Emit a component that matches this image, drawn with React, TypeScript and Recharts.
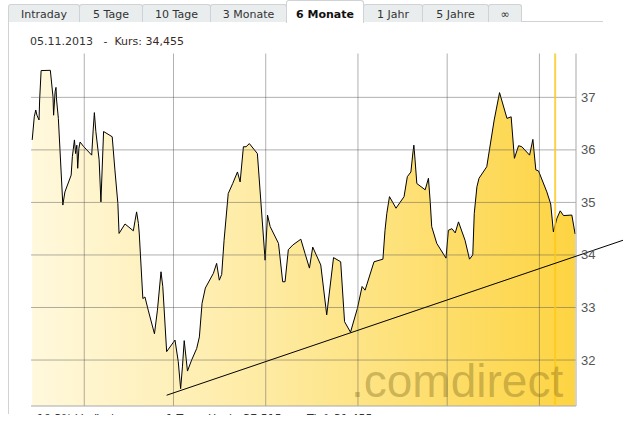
import { ComposedChart, Area, XAxis, YAxis, ReferenceLine } from 'recharts'

// day number counted from 1 May 2013, price in EUR
const DAYS = [
  13.5, 14.2, 14.7, 15.1, 15.8, 16.0, 16.5, 19.6, 20.5, 20.7, 21.2, 21.5, 21.7, 22.3, 22.9, 23.8,
  24.5, 26.6, 27.0, 27.7, 28.1, 28.5, 28.8, 29.2, 29.6, 30.7, 33.5, 34.0, 34.4, 34.9, 36.0, 36.6,
  37.5, 40.4, 41.3, 42.3, 42.7, 44.7, 47.5, 48.1, 48.6, 49.2, 49.5, 50.7, 51.4, 52.5, 54.6, 55.6,
  56.8, 57.4, 58.7, 61.5, 62.6, 63.4, 64.0, 64.6, 65.7, 67.1, 68.8, 69.7, 70.6, 71.7, 74.4, 75.5,
  76.4, 77.2, 78.0, 79.4, 80.9, 82.5, 83.4, 84.5, 85.4, 86.5, 89.2, 91.8, 92.6, 93.5, 96.3, 97.7,
  98.5, 99.6, 101.1, 103.8, 105.2, 106.7, 107.8, 110.5, 112.5, 114.8, 117.2, 118.5, 120.5, 122.8,
  124.4, 125.4, 128.4, 131.4, 132.1, 132.7, 133.6, 135.8, 138.5, 139.6, 140.8, 141.5, 141.8, 142.2,
  142.8, 145.6, 146.7, 147.3, 147.8, 149.5, 152.6, 153.4, 154.6, 155.7, 156.8, 159.0, 160.5, 161.6,
  162.1, 163.0, 163.7, 166.3, 167.2, 168.8, 170.6, 173.1, 174.5, 175.6, 177.0, 178.1, 180.7, 181.8,
  182.8, 183.7, 186.5, 187.8, 188.7, 189.9, 191.0, 192.1, 194.9, 196.0,
]

const PRICES = [
  36.19, 36.63, 36.76, 36.66, 36.57, 36.95, 37.51, 37.515, 37.01, 36.66, 37.11, 37.19, 36.95, 36.6, 35.94, 34.95,
  35.2, 35.52, 35.87, 36.19, 35.93, 36.09, 35.65, 36.03, 36.15, 36.07, 35.9, 36.38, 36.71, 36.35, 35.81, 35.01,
  36.35, 36.25, 35.62, 34.98, 34.41, 34.59, 34.46, 34.66, 34.82, 34.6, 34.4, 33.17, 33.2, 32.95, 32.5, 32.95,
  33.68, 33.4, 32.16, 32.38, 31.97, 31.455, 31.87, 32.37, 31.79, 32.0, 32.22, 32.44, 33.08, 33.37, 33.65, 33.84,
  33.52, 33.63, 34.28, 35.17, 35.36, 35.58, 35.39, 36.06, 36.06, 36.12, 35.93, 33.9, 34.76, 34.54, 34.22, 33.49,
  33.49, 34.1, 34.19, 34.3, 34.03, 33.75, 34.15, 33.81, 32.86, 33.95, 33.87, 32.73, 32.53, 32.98,
  33.4, 33.33, 33.87, 33.92, 34.47, 34.79, 35.11, 34.89, 35.11, 35.49, 35.58, 35.96, 36.09, 35.81,
  35.36, 35.24, 35.46, 35.01, 34.54, 34.22, 33.94, 34.47, 34.5, 34.42, 34.63, 34.28, 33.92, 34.0,
  34.79, 35.3, 35.46, 35.68, 36.0, 36.57, 37.09, 36.6, 36.63, 35.84, 36.08, 36.06, 35.9, 36.2,
  35.62, 35.6, 35.2, 34.97, 34.44, 34.7, 34.84, 34.75, 34.76, 34.4,
]

const MONTH_TICKS = [31, 61, 92, 123, 153, 184]
const MONTH_LABELS = ['Jun', 'Jul', 'Aug', 'Sep', 'Okt', 'Nov']
const PRICE_TICKS = [32, 33, 34, 35, 36, 37]
const TODAY = 189.3
const TREND_START = { day: 58.7, price: 31.33 }
const TREND_END = { day: 212.1, price: 34.28 }

const TABS = ['Intraday', '5 Tage', '10 Tage', '3 Monate', '6 Monate', '1 Jahr', '5 Jahre', '∞']
const ACTIVE_TAB = '6 Monate'

const X_DOMAIN: [number, number] = [13.1, 196.3]
const Y_DOMAIN: [number, number] = [31.125, 37.835]

const data = DAYS.map((day, i) => ({ day, price: PRICES[i] }))

const W = 629
const H = 438
const PLOT_TOP = 53.5
const TAB_EDGES = [8, 79, 142, 210, 286, 363, 422, 488, 521]
const UI_FONT = '"DejaVu Sans", Verdana, sans-serif'
const AXIS_FONT = '"Liberation Sans", Arial, sans-serif'
const GRID = { stroke: '#505050', strokeOpacity: 0.45, strokeWidth: 1 }

function MonthTick({ x, payload }: { x?: number; payload?: { value: number } }) {
  const label = MONTH_LABELS[MONTH_TICKS.indexOf(payload?.value ?? -1)]
  const px = (x ?? 0) + 10
  const py = PLOT_TOP + 1
  return (
    <text
      x={px}
      y={py}
      transform={`rotate(-90 ${px} ${py})`}
      textAnchor="end"
      fontSize={11}
      fontFamily={AXIS_FONT}
      fill="#333"
    >
      {label}
    </text>
  )
}

function PriceTick({ y, payload }: { y?: number; payload?: { value: number } }) {
  return (
    <text x={581} y={(y ?? 0) + 4.5} fontSize={13} fontFamily={AXIS_FONT} fill="#555">
      {payload?.value}
    </text>
  )
}

function Tabs() {
  return (
    <>
      <div style={{ position: 'absolute', left: 8, top: 21, width: 595, height: 1, background: '#cfd3d5' }} />
      {TABS.map((t, i) => {
        const active = t === ACTIVE_TAB
        const left = TAB_EDGES[i]
        const width = TAB_EDGES[i + 1] - left
        return (
          <div
            key={t}
            style={{
              position: 'absolute',
              left,
              top: active ? 0 : 4,
              width: width - 1,
              height: active ? 22 : 17,
              background: active ? '#fff' : '#e9edee',
              border: '1px solid #cfd3d5',
              borderBottom: 'none',
              borderRadius: '3px 3px 0 0',
              fontSize: 11,
              fontWeight: active ? 700 : 400,
              color: active ? '#111' : '#333',
              textAlign: 'center',
              lineHeight: active ? '27px' : '19px',
              boxSizing: 'content-box',
            }}
          >
            {t}
          </div>
        )
      })}
    </>
  )
}

export default function App() {
  return (
    <div
      style={{
        position: 'absolute',
        left: 0,
        top: 0,
        width: W,
        height: 415,
        overflow: 'hidden',
        background: '#fff',
        fontFamily: UI_FONT,
      }}
    >
      <Tabs />
      <div style={{ position: 'absolute', left: 8, top: 22, width: 1, height: 392, background: '#cfd3d5' }} />
      <div style={{ position: 'absolute', left: 30, top: 35, fontSize: 11, color: '#333', whiteSpace: 'pre' }}>
        05.11.2013   -  <span style={{ color: '#3c2a1e' }}>Kurs: 34,455</span>
      </div>

      <ComposedChart
        width={W}
        height={H}
        data={data}
        margin={{ top: PLOT_TOP, right: 13, bottom: 32, left: 31 }}
        style={{ position: 'absolute', left: 0, top: 0 }}
      >
        <defs>
          <linearGradient id="fillGrad" x1="0" y1="0" x2="1" y2="0">
            <stop offset="0%" stopColor="#fff8dc" />
            <stop offset="45%" stopColor="#feea9f" />
            <stop offset="100%" stopColor="#fdd442" />
          </linearGradient>
        </defs>
        <XAxis
          dataKey="day"
          type="number"
          orientation="top"
          height={0}
          domain={X_DOMAIN}
          allowDataOverflow
          ticks={MONTH_TICKS}
          interval={0}
          axisLine={false}
          tickLine={false}
          tick={<MonthTick />}
        />
        <YAxis
          type="number"
          orientation="right"
          width={40}
          domain={Y_DOMAIN}
          allowDataOverflow
          ticks={PRICE_TICKS}
          interval={0}
          axisLine={false}
          tickLine={false}
          tick={<PriceTick />}
        />
        <Area
          type="linear"
          dataKey="price"
          stroke="#000"
          strokeWidth={1}
          fill="url(#fillGrad)"
          fillOpacity={1}
          baseValue={Y_DOMAIN[0]}
          dot={false}
          activeDot={false}
          isAnimationActive={false}
        />
        {MONTH_TICKS.map((m) => (
          <ReferenceLine key={'v' + m} x={m} {...GRID} zIndex={500} />
        ))}
        {PRICE_TICKS.map((p) => (
          <ReferenceLine key={'h' + p} y={p} {...GRID} zIndex={500} />
        ))}
        <ReferenceLine x={X_DOMAIN[1]} stroke="#a8a8a8" zIndex={500} />
        <ReferenceLine y={Y_DOMAIN[0]} stroke="#a8a8a8" zIndex={500} />
        <ReferenceLine x={TODAY} stroke="#fcc81a" strokeOpacity={0.8} strokeWidth={2} zIndex={500} />
        <ReferenceLine
          segment={[
            { x: TREND_START.day, y: TREND_START.price },
            { x: TREND_END.day, y: TREND_END.price },
          ]}
          ifOverflow="visible"
          stroke="#000"
          strokeWidth={1}
          zIndex={600}
        />
      </ComposedChart>

      <svg width={W} height={H} style={{ position: 'absolute', left: 0, top: 0, pointerEvents: 'none' }}>
        <text x={351} y={397} fontSize={46} fontFamily={AXIS_FONT} fill="#8a7222" fillOpacity={0.42}>
          .comdirect
        </text>
        <g fontSize={11} fill="#333" fontFamily={UI_FONT}>
          <text x={37} y={422}>10,3% Veränderung zu 1 Tag</text>
          <text x={208} y={422}>Hoch: 37,515</text>
          <text x={307} y={422}>Tief: 31,455</text>
        </g>
      </svg>
    </div>
  )
}
